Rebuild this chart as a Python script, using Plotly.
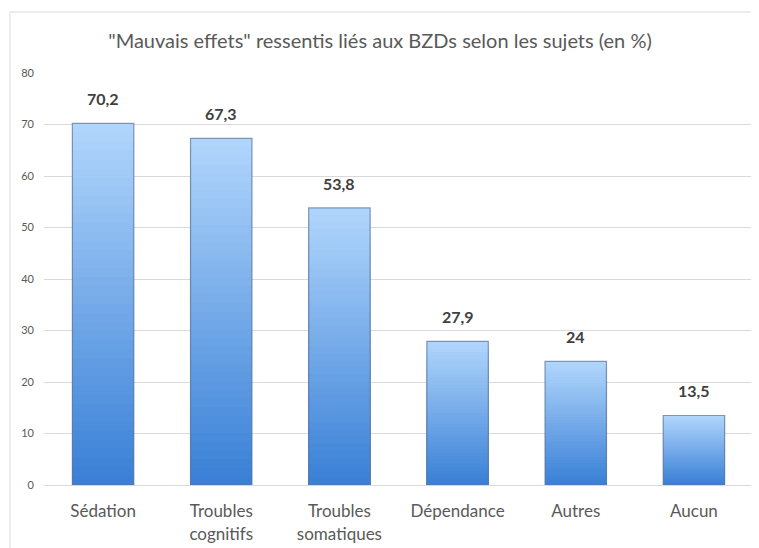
import plotly.graph_objects as go

categories = ["Sédation", "Troubles<br>cognitifs", "Troubles<br>somatiques", "Dépendance", "Autres", "Aucun"]
values = [70.2, 67.3, 53.8, 27.9, 24, 13.5]
y_ticks = [0, 10, 20, 30, 40, 50, 60, 70, 80]
title_text = '"Mauvais effets" ressentis liés aux BZDs selon les sujets (en %)'

top_rgb = (176, 213, 252)
bottom_rgb = (58, 128, 214)
N = 40

fig = go.Figure()
for i in range(N):
    frac = 1 - i / N
    t = i / (N - 1)
    c = tuple(int(round(top_rgb[k] + (bottom_rgb[k] - top_rgb[k]) * t)) for k in range(3))
    fig.add_trace(go.Bar(
        x=categories, y=[v * frac for v in values],
        marker=dict(color="rgb(%d,%d,%d)" % c, line=dict(width=0)),
        width=0.52, hoverinfo="skip", showlegend=False,
    ))

fig.add_trace(go.Bar(
    x=categories, y=values,
    marker=dict(color="rgba(0,0,0,0)", line=dict(color="rgba(95,120,155,0.75)", width=1.2)),
    width=0.52, showlegend=False,
))

for cat, v in zip(categories, values):
    fig.add_annotation(x=cat, y=v, text="<b>" + str(v).replace(".", ",") + "</b>",
                       showarrow=False, yanchor="bottom", yshift=13,
                       font=dict(family="Lato, Liberation Sans, sans-serif", size=16, color="#404040"))

# page body has an 8px margin; lay out in window pixels minus that offset
OFF = 8
W, H = 759 - OFF, 548 - OFF
ml, mr, mt = 44 - OFF, 6, 73 - OFF
mb = H - (485 - OFF)
pw, ph = W - ml - mr, H - mt - mb

def px(xp):
    return (xp - OFF - ml) / pw

def py(yp):
    return 1 - (yp - OFF - mt) / ph

fig.update_layout(
    width=W, height=H,
    barmode="overlay",
    paper_bgcolor="white", plot_bgcolor="white",
    margin=dict(l=ml, r=mr, t=mt, b=mb, autoexpand=False),
    font=dict(family="Lato, Liberation Sans, sans-serif", color="#595959"),
    title=dict(text=title_text, x=(380 - OFF) / W, xref="container", xanchor="center",
               y=1 - (41 - OFF) / H, yanchor="middle",
               font=dict(size=20, color="#595959")),
    xaxis=dict(showgrid=False, showline=True, linecolor="#d9d9d9", linewidth=1,
               ticks="", ticklabelstandoff=11, tickfont=dict(size=17, color="#595959")),
    yaxis=dict(range=[0, 80], tickvals=y_ticks, showgrid=True, gridcolor="#d9d9d9",
               gridwidth=1, zeroline=False, showline=False, ticks="",
               ticklabelstandoff=9,
               tickfont=dict(size=11, color="#595959")),
    shapes=[dict(type="rect", xref="paper", yref="paper",
                 x0=px(10), x1=px(775), y0=py(565), y1=py(12),
                 line=dict(color="#d9d9d9", width=1), fillcolor="rgba(0,0,0,0)",
                 layer="below")],
)

fig.write_html("out.html")
